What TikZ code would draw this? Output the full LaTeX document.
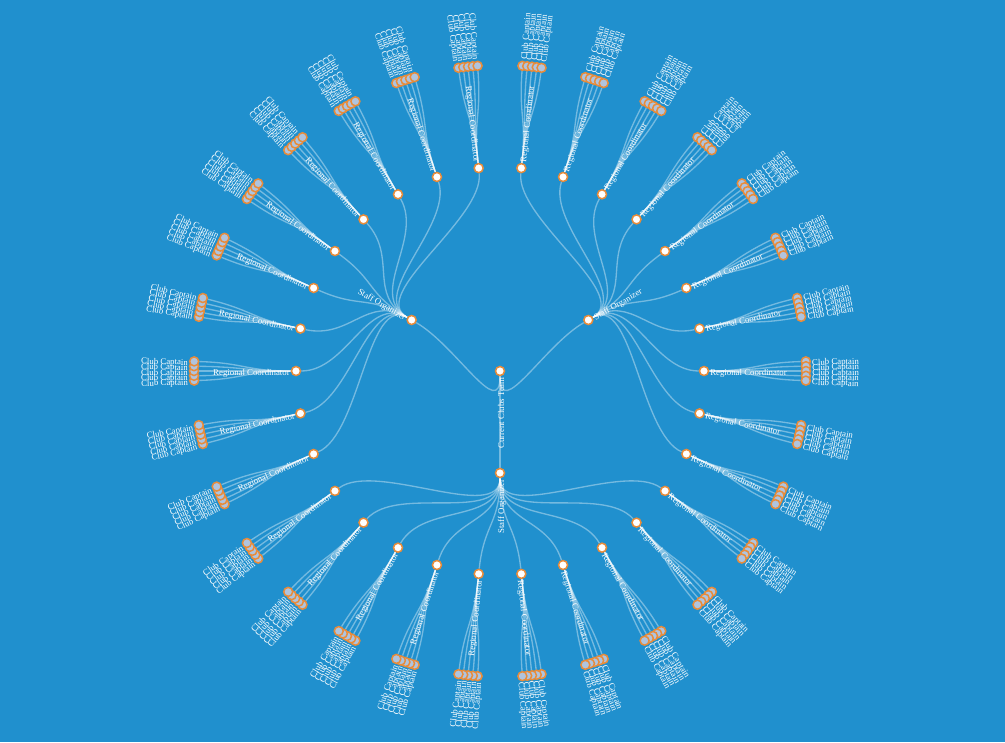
\documentclass[tikz,border=0pt]{standalone}
\usepackage{fontspec}
\setmainfont{Liberation Serif}
\usetikzlibrary{calc}

\definecolor{bgblue}{RGB}{32,144,206}
\definecolor{rimorange}{RGB}{232,140,58}
\definecolor{leafblue}{RGB}{176,196,222}

\pgfdeclarelayer{bg}
\pgfdeclarelayer{links}
\pgfsetlayers{bg,links,main}

\tikzset{
  dot/.style={circle, draw=rimorange, line width=1.125pt, fill=white, minimum size=6.75pt, inner sep=0pt},
  leafdot/.style={dot, fill=leafblue},
  link/.style={draw=white, draw opacity=0.38, line width=1pt},
  lbl/.style={text=white, font=\fontsize{6.6}{7}\selectfont, inner sep=0pt, text height=0.62em, text depth=0pt},
}

% label along the radius, #2 = angle clockwise from top
\newcommand\radlabel[4]{%
  \pgfmathsetmacro{\ra}{90-#2}%
  \pgfmathtruncatemacro{\rf}{#2>=180}%
  \ifnum\rf=1
    \node[lbl, anchor=east, rotate=\ra+180] (#1) at (\ra:#3+6) {#4};
  \else
    \node[lbl, anchor=west, rotate=\ra] (#1) at (\ra:#3+6) {#4};
  \fi}

\begin{document}
\begin{tikzpicture}[x=0.75pt, y=0.75pt]
  % Background
  \begin{pgfonlayer}{bg}
    \fill[bgblue] (-500,-371) rectangle (505,371);
  \end{pgfonlayer}

  % Root
  \node[dot] (root) at (0,0) {};
  \radlabel{root-t}{180}{0}{Current Clubs Team}

  % Staff organizers
  \foreach \s in {0,1,2}{
    \pgfmathsetmacro{\ps}{60+120*\s}
    \pgfmathsetmacro{\as}{90-\ps}
    \node[dot] (org\s) at (\as:102) {};
    \radlabel{org\s-t}{\ps}{102}{Staff Organizer}
    \begin{pgfonlayer}{links}
      \draw[link] (root) .. controls (-90:51) and (\as:51) .. (org\s);
    \end{pgfonlayer}
  }

  % Regional coordinators and club captains
  \foreach \k in {0,...,29}{
    \pgfmathsetmacro{\pc}{6+12*\k}
    \pgfmathsetmacro{\ac}{90-\pc}
    \pgfmathtruncatemacro{\s}{floor(\k/10)}
    \pgfmathsetmacro{\as}{30-120*\s}
    \node[dot] (coord\k) at (\ac:204) {};
    \radlabel{coord\k-t}{\pc}{204}{Regional Coordinator}
    \begin{pgfonlayer}{links}
      \draw[link] (org\s) .. controls (\as:153) and (\ac:153) .. (coord\k);
    \end{pgfonlayer}
    \foreach \j in {0,...,4}{
      \pgfmathsetmacro{\pj}{\pc+(\j-2)*0.9}
      \pgfmathsetmacro{\aj}{90-\pj}
      \node[leafdot] (capt\k-\j) at (\aj:306) {};
      \radlabel{capt\k-\j-t}{\pj}{306}{Club Captain}
      \begin{pgfonlayer}{links}
        \draw[link] (coord\k) .. controls (\ac:255) and (\aj:255) .. (capt\k-\j);
      \end{pgfonlayer}
    }
  }
\end{tikzpicture}
\end{document}
